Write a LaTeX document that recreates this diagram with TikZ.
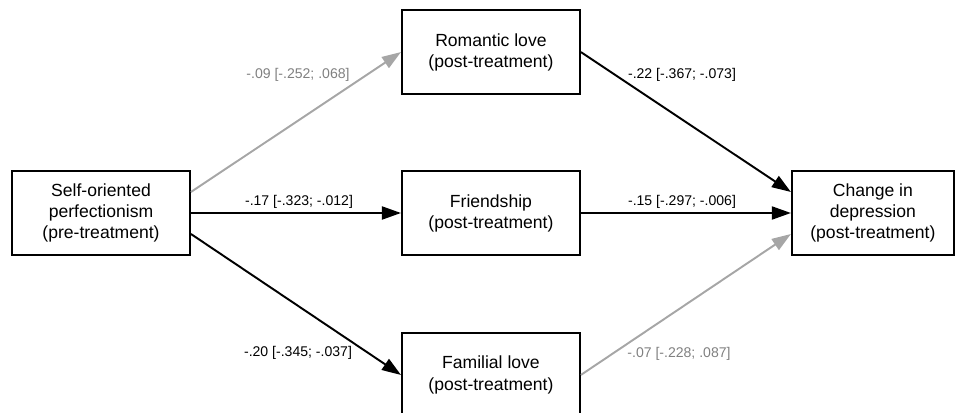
\documentclass[tikz,border=0pt]{standalone}
\usepackage{fontspec}
\setmainfont{Liberation Sans}
\usetikzlibrary{positioning,arrows.meta}
\definecolor{nsline}{RGB}{166,166,166}
\definecolor{nstext}{RGB}{128,128,128}

\begin{document}
\begin{tikzpicture}[
  node distance=1.5cm and 4.2cm,
  mybox/.style={draw,rectangle,line width=1.1pt,minimum width=3.56cm,minimum height=1.68cm,align=center,font=\fontsize{10}{12}\selectfont},
  mylabel/.style={font=\fontsize{8}{9.6}\selectfont,inner sep=0pt},
  mysig/.style={line width=1.1pt,-{Triangle[length=0.38cm,width=0.26cm]}},
  mynsig/.style={mysig,nsline}
]
\useasboundingbox (0,0) rectangle (19.14,-8.26);

\node[mybox] (sop) at (2.02,-4.26) {Self-oriented\\perfectionism\\(pre-treatment)};
\node[mybox, right=of sop] (fri) {Friendship\\(post-treatment)};
\node[mybox, above=of fri] (rom) {Romantic love\\(post-treatment)};
\node[mybox, below=1.52cm of fri] (fam) {Familial love\\(post-treatment)};
\node[mybox, minimum width=3.24cm, right=of fri] (dep) {Change in\\depression\\(post-treatment)};

% path coefficients
\node[mylabel, nstext] (l09) at (5.96,-1.50) {-.09 [-.252; .068]};
\node[mylabel] (l17) at (5.98,-4.04) {-.17 [-.323; -.012]};
\node[mylabel] (l20) at (5.96,-7.06) {-.20 [-.345; -.037]};
\node[mylabel] (l22) at (13.64,-1.50) {-.22 [-.367; -.073]};
\node[mylabel] (l15) at (13.64,-4.04) {-.15 [-.297; -.006]};
\node[mylabel, nstext] (l07) at (13.58,-7.08) {-.07 [-.228; .087]};

\path ([yshift=0.42cm]sop.east) edge[mynsig] (rom.west)
(sop.east) edge[mysig] (fri.west)
([yshift=-0.42cm]sop.east) edge[mysig] (fam.west)
(rom.east) edge[mysig] ([yshift=0.42cm]dep.west)
(fri.east) edge[mysig] (dep.west)
(fam.east) edge[mynsig] ([yshift=-0.42cm]dep.west);
\end{tikzpicture}
\end{document}
